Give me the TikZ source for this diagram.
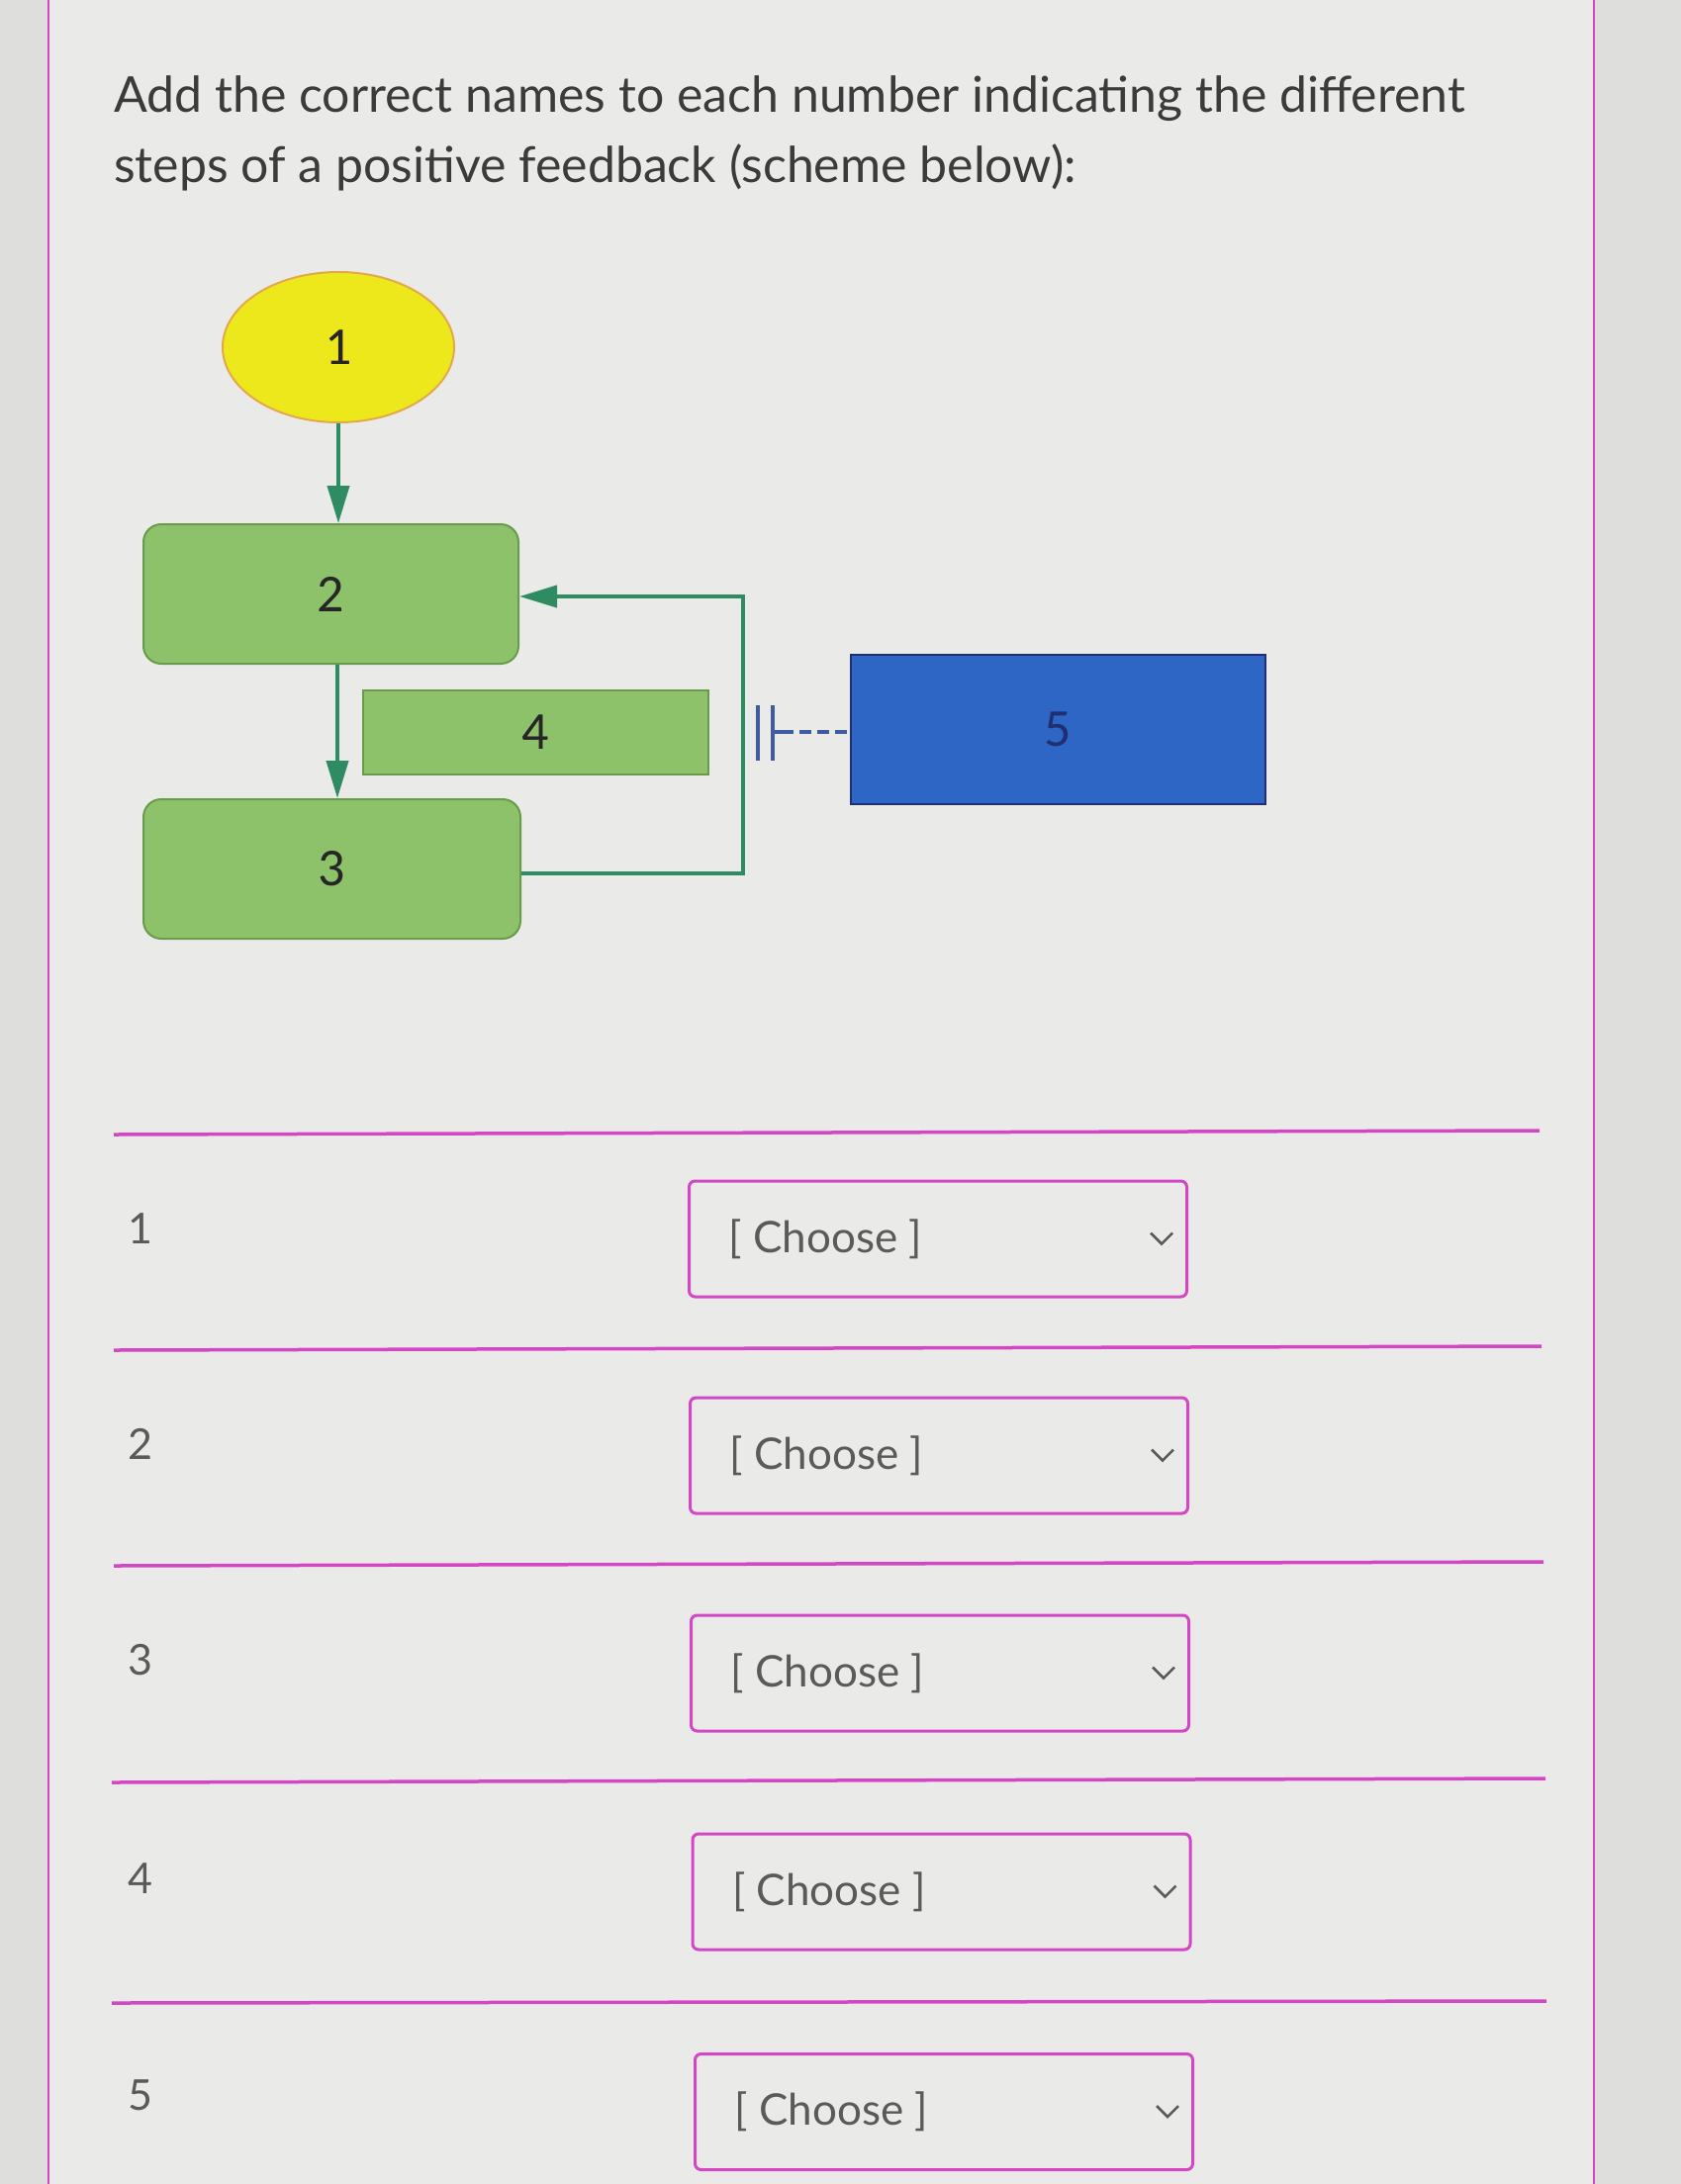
\documentclass[tikz,border=0pt]{standalone}
\usepackage{fontspec}
\setmainfont{Lato}
\newfontfamily\carl{Carlito}
\usetikzlibrary{arrows.meta,shapes.geometric}
\definecolor{bgin}{HTML}{EAEBE8}
\definecolor{bgout}{HTML}{DEDFDC}
\definecolor{pink}{HTML}{D447C4}
\definecolor{txt}{HTML}{3B3B3B}
\definecolor{gtxt}{HTML}{5A5A5A}
\definecolor{ylw}{HTML}{EDE81C}
\definecolor{ylwb}{HTML}{E2A94A}
\definecolor{grn}{HTML}{8DC26A}
\definecolor{grnb}{HTML}{6A9A4C}
\definecolor{conn}{HTML}{2E8B62}
\definecolor{blu}{HTML}{2E66C6}
\definecolor{blub}{HTML}{1F2F70}
\definecolor{inhc}{HTML}{3F5C9E}
\tikzset{
  dnum/.style={font=\carl\fontsize{54}{54}\selectfont, text=black!85},
  gbox/.style={draw=grnb, fill=grn, line width=2pt, dnum},
  conline/.style={draw=conn, line width=4pt},
  arr/.style={conline, -{Triangle[length=38pt,width=22pt]}},
  inh/.style={draw=inhc, line width=3.5pt},
  sep/.style={draw=pink, line width=3.5pt},
  ddbox/.style={draw=pink, line width=3pt, rounded corners=6pt, minimum width=503pt, minimum height=117pt},
  choose/.style={font=\fontsize{44}{44}\selectfont, text=gtxt, anchor=west},
  rownum/.style={font=\fontsize{43}{43}\selectfont, text=gtxt},
  chev/.style={draw=gtxt, line width=2.5pt, line join=miter}
}
\begin{document}
\begin{tikzpicture}[x=1pt,y=-1pt]
\fill[bgout] (0,0) rectangle (1699,2208);
\fill[bgin] (49,0) rectangle (1611,2208);
\useasboundingbox (0,0) rectangle (1699,2208);
\draw[pink, line width=2pt] (49,0) -- (49,2208);
\draw[pink, line width=2pt] (1611,0) -- (1611,2208);

% title
\node[anchor=base west, inner sep=0pt, text=txt, font=\fontsize{50}{50}\selectfont] (t1) at (115,113) {Add the correct names to each number indicating the different};
\node[anchor=base west, inner sep=0pt, text=txt, font=\fontsize{50}{50}\selectfont] (t2) at (115,184) {steps of a positive feedback (scheme below):};

% diagram
\node[ellipse, draw=ylwb, fill=ylw, line width=2pt, minimum width=234pt, minimum height=152pt, dnum] (n1) at (342,351) {1};
\node[gbox, rounded corners=18pt, minimum width=379pt, minimum height=141pt] (b2) at (334.5,600.5) {2};
\node[gbox, rounded corners=18pt, minimum width=381pt, minimum height=141pt] (b3) at (335.5,878.5) {3};
\node[gbox, minimum width=349pt, minimum height=85pt] (b4) at (541.5,740.5) {4};
\node[draw=blub, fill=blu, line width=2.5pt, minimum width=419pt, minimum height=151pt, dnum, text=blub] (b5) at (1069.5,737.5) {5};

\draw[arr] (n1.south) -- (n1.south |- b2.north);
\draw[arr] ([xshift=6.5pt]b2.south) -- ([xshift=6.5pt]b2.south |- b3.north);
\coordinate (fb) at (751,603);
\draw[arr] ([yshift=-4.5pt]b3.east) -| (fb) -- (fb -| b2.east);

% inhibition symbol
\coordinate (inh) at (781,740);
\draw[inh] (766,713) -- (766,769);
\draw[inh] (781,713) -- (781,769);
\draw[inh] (inh) -- (790,740);
\draw[inh, dash pattern=on 12pt off 6pt] (790,740) -- (b5.west |- inh);

% rows
\draw[sep] (115,1147) -- (1556,1143);
\draw[sep] (115,1365) -- (1558,1361);
\draw[sep] (115,1583) -- (1560,1579);
\draw[sep] (113,1802) -- (1562,1798);
\draw[sep] (113,2025) -- (1563,2023);

\node[rownum] (r1) at (142,1242) {1};
\node[rownum] (r2) at (142,1460) {2};
\node[rownum] (r3) at (142,1678) {3};
\node[rownum] (r4) at (142,1899) {4};
\node[rownum] (r5) at (142,2118) {5};

\node[ddbox] (d1) at (948,1252.5) {};
\node[ddbox] (d2) at (949,1471.5) {};
\node[ddbox] (d3) at (950,1691.5) {};
\node[ddbox] (d4) at (951.5,1912.5) {};
\node[ddbox] (d5) at (954,2135) {};

\node[choose] (c1) at ([xshift=38pt]d1.west) {[ Choose ]};
\node[choose] (c2) at ([xshift=38pt]d2.west) {[ Choose ]};
\node[choose] (c3) at ([xshift=38pt]d3.west) {[ Choose ]};
\node[choose] (c4) at ([xshift=38pt]d4.west) {[ Choose ]};
\node[choose] (c5) at ([xshift=38pt]d5.west) {[ Choose ]};

\foreach \d in {d1,d2,d3,d4,d5}{
  \draw[chev] ([xshift=-38pt,yshift=6pt]\d.east) -- ++(11,11) -- ++(11,-11);
}
\end{tikzpicture}
\end{document}
